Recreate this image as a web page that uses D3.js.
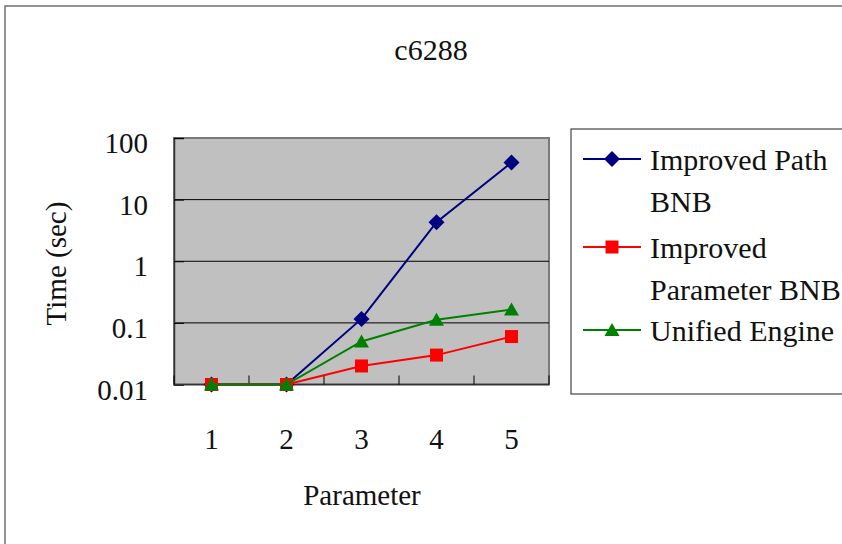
<!DOCTYPE html>
<html>
<head>
<meta charset="utf-8">
<script src="https://cdn.jsdelivr.net/npm/d3@7"></script>
<style>
  html, body { margin: 0; padding: 0; background: #fff; }
</style>
</head>
<body>
<div id="chart"></div>
<script>
// Chart data
const categories = [1, 2, 3, 4, 5];
const pathBnb = [0.01, 0.01, 0.116, 4.3, 40];
const paramBnb = [0.01, 0.01, 0.02, 0.03, 0.06];
const unifiedEngine = [0.01, 0.01, 0.05, 0.112, 0.165];
const yTicks = [0.01, 0.1, 1, 10, 100];
const yTickLabels = ['0.01', '0.1', '1', '10', '100'];

const series = [
    { name: ['Improved Path', 'BNB'], values: pathBnb, color: '#000080', shape: 'diamond' },
    { name: ['Improved', 'Parameter BNB'], values: paramBnb, color: '#ff0000', shape: 'square' },
    { name: ['Unified Engine'], values: unifiedEngine, color: '#008000', shape: 'triangle' }
];

const FONT = 'Liberation Serif';
const W = 842, H = 544;
const plot = { left: 174, right: 549, top: 138, bottom: 384.5 };

const svg = d3.select('#chart')
    .append('svg')
    .attr('width', W)
    .attr('height', H);

function addText(g, xPos, yPos, size, txt, anchor) {
    return g.append('text')
        .attr('x', xPos)
        .attr('y', yPos)
        .attr('text-anchor', anchor || 'start')
        .attr('font-family', FONT)
        .attr('font-size', size)
        .attr('fill', '#111')
        .text(txt);
}

// outer frame
svg.append('rect')
    .attr('x', 5).attr('y', 6)
    .attr('width', W + 10).attr('height', H + 10)
    .attr('fill', 'none')
    .attr('stroke', '#707070')
    .attr('stroke-width', 1.5);

const x = d3.scaleBand()
    .domain(categories)
    .range([plot.left, plot.right])
    .padding(0);
const y = d3.scaleLog()
    .domain([0.01, 100])
    .range([plot.bottom, plot.top]);

// plot background
svg.append('rect')
    .attr('x', plot.left).attr('y', plot.top)
    .attr('width', plot.right - plot.left)
    .attr('height', plot.bottom - plot.top)
    .attr('fill', '#c0c0c0')
    .attr('stroke', '#7a7a7a')
    .attr('stroke-width', 2);

// gridlines
svg.append('g')
    .selectAll('line')
    .data(yTicks.slice(1, -1))
    .enter()
    .append('line')
    .attr('x1', plot.left).attr('x2', plot.right)
    .attr('y1', d => y(d)).attr('y2', d => y(d))
    .attr('stroke', '#000')
    .attr('stroke-width', 1);

// y axis (ticks pointing inward)
const yAxis = svg.append('g')
    .attr('transform', `translate(${plot.left},0)`)
    .call(d3.axisLeft(y).tickValues(yTicks).tickSize(-10).tickFormat(''));
yAxis.select('.domain').attr('stroke', '#333').attr('stroke-width', 1.5);
yAxis.selectAll('.tick line').attr('stroke', '#000');

const yLabels = svg.append('g');
yTicks.forEach((d, i) => addText(yLabels, 148, y(d) + 15, 29, yTickLabels[i], 'end'));

// x axis with inward ticks at category boundaries
const xBounds = categories.map(c => x(c)).concat([plot.right]);
svg.append('line')
    .attr('x1', plot.left).attr('x2', plot.right)
    .attr('y1', plot.bottom).attr('y2', plot.bottom)
    .attr('stroke', '#333')
    .attr('stroke-width', 1.5);
svg.append('g')
    .selectAll('line')
    .data(xBounds)
    .enter()
    .append('line')
    .attr('x1', d => d).attr('x2', d => d)
    .attr('y1', plot.bottom).attr('y2', plot.bottom - 9)
    .attr('stroke', '#000');

const xLabels = svg.append('g');
categories.forEach(c => addText(xLabels, x(c) + x.bandwidth() / 2, 449, 29, c, 'middle'));

// titles
addText(svg, 431, 60, 30, 'c6288', 'middle');
addText(svg, 362, 505, 29, 'Parameter', 'middle');
addText(svg, 0, 0, 29, 'Time (sec)', 'middle')
    .attr('transform', 'translate(66,263.5) rotate(-90)');

// marker drawing
function drawMarker(g, shape, color, cx, cy) {
    if (shape === 'diamond') {
        g.append('path')
            .attr('d', `M${cx},${cy - 8}L${cx + 8},${cy}L${cx},${cy + 8}L${cx - 8},${cy}Z`)
            .attr('fill', color);
    } else if (shape === 'square') {
        g.append('rect')
            .attr('x', cx - 6.5).attr('y', cy - 6.5)
            .attr('width', 13).attr('height', 13)
            .attr('fill', color);
    } else {
        g.append('path')
            .attr('d', `M${cx},${cy - 7}L${cx + 7.5},${cy + 6}L${cx - 7.5},${cy + 6}Z`)
            .attr('fill', color);
    }
}

const line = d3.line()
    .x((d, i) => x(categories[i]) + x.bandwidth() / 2)
    .y(d => y(d));

series.forEach(s => {
    const g = svg.append('g');
    g.append('path')
        .datum(s.values)
        .attr('d', line)
        .attr('fill', 'none')
        .attr('stroke', s.color)
        .attr('stroke-width', 2);
    s.values.forEach((v, i) => {
        drawMarker(g, s.shape, s.color, x(categories[i]) + x.bandwidth() / 2, y(v));
    });
});

// legend
const legend = svg.append('g');
legend.append('rect')
    .attr('x', 571).attr('y', 129)
    .attr('width', 300).attr('height', 265)
    .attr('fill', '#fff')
    .attr('stroke', '#444')
    .attr('stroke-width', 1.2);

const legendY = [159, 247, 330];
series.forEach((s, i) => {
    const ly = legendY[i];
    legend.append('line')
        .attr('x1', 583).attr('x2', 641)
        .attr('y1', ly).attr('y2', ly)
        .attr('stroke', s.color)
        .attr('stroke-width', 2);
    drawMarker(legend, s.shape, s.color, 612, ly);
    s.name.forEach((t, j) => addText(legend, 650, ly + 11 + j * 42, 30, t));
});
</script>
</body>
</html>
